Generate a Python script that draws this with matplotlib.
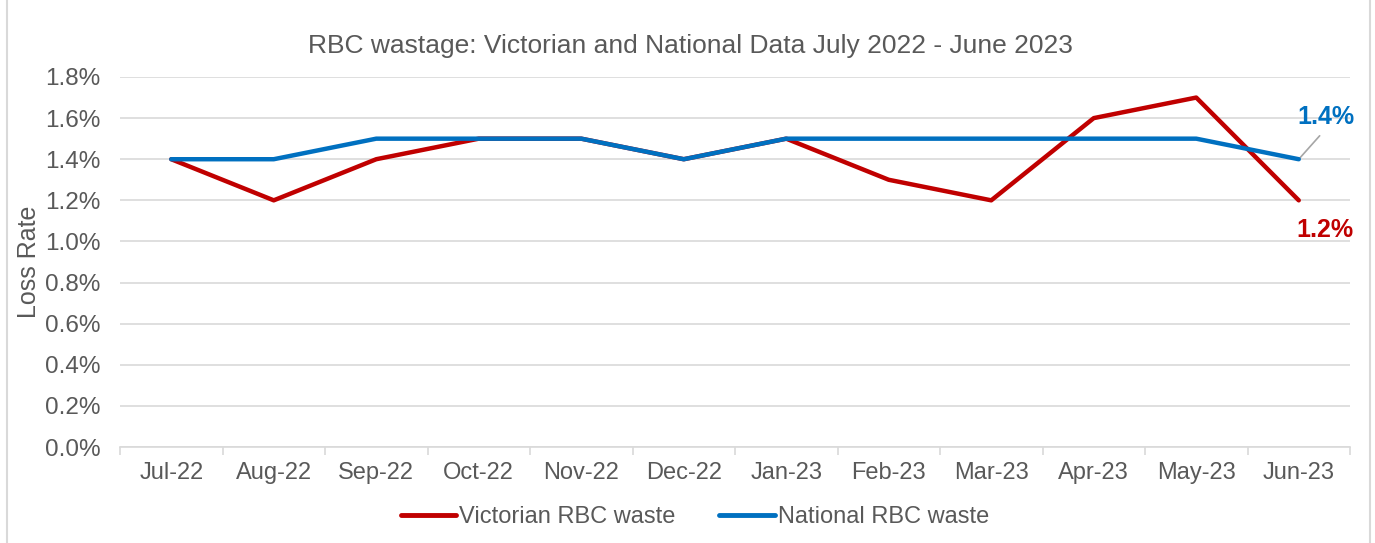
import matplotlib
matplotlib.use('Agg')
import matplotlib.pyplot as plt
from matplotlib.lines import Line2D
import numpy as np

plt.rcParams['font.family'] = ['Liberation Sans', 'DejaVu Sans']

# Data
months = ['Jul-22', 'Aug-22', 'Sep-22', 'Oct-22', 'Nov-22', 'Dec-22',
          'Jan-23', 'Feb-23', 'Mar-23', 'Apr-23', 'May-23', 'Jun-23']
victorian = [1.4, 1.2, 1.4, 1.5, 1.5, 1.4, 1.5, 1.3, 1.2, 1.6, 1.7, 1.2]
national = [1.4, 1.4, 1.5, 1.5, 1.5, 1.4, 1.5, 1.5, 1.5, 1.5, 1.5, 1.4]
yticks = [0.0, 0.2, 0.4, 0.6, 0.8, 1.0, 1.2, 1.4, 1.6, 1.8]

red = '#C00000'
blue = '#0070C0'
grey = '#595959'
gridc = '#D9D9D9'

fig = plt.figure(figsize=(13.75, 5.43), dpi=100)
ax = fig.add_axes([120/1375, 1 - 447/543, 1230/1375, (447 - 77)/543])

x = np.arange(len(months))
ax.plot(x, victorian, color=red, lw=3.2, solid_capstyle='round', zorder=3)
ax.plot(x, national, color=blue, lw=3.2, solid_capstyle='round', zorder=4)

ax.set_xlim(-0.5, len(months) - 0.5)
ax.set_ylim(0, 1.8)
ax.set_yticks(yticks)
ax.set_yticklabels([f'{v:.1f}%' for v in yticks])
ax.set_xticks(x)
ax.set_xticklabels(months)
ax.set_xticks(np.arange(len(months) + 1) - 0.5, minor=True)

ax.grid(axis='y', color=gridc, lw=1.2)
ax.set_axisbelow(True)
for s in ['top', 'right', 'left']:
    ax.spines[s].set_visible(False)
ax.spines['bottom'].set_color(gridc)
ax.spines['bottom'].set_linewidth(1.2)
ax.tick_params(axis='x', which='major', length=0, pad=11, labelsize=17, labelcolor=grey)
ax.tick_params(axis='x', which='minor', length=6, color=gridc, width=1.2)
ax.tick_params(axis='y', length=0, pad=14, labelsize=17.5, labelcolor=grey)

ax.set_ylabel('Loss Rate', fontsize=18, color=grey, labelpad=3)

fig.text(690/1375, 1 - 46/543, 'RBC wastage: Victorian and National Data July 2022 - June 2023',
         ha='center', va='center', fontsize=19, color=grey)

# End-point labels
last = len(months) - 1
ax.annotate(f'{national[last]:.1f}%', xy=(last, national[last]),
            xytext=(19.5, 30.5), textcoords='offset points', ha='center', va='center',
            fontsize=18, fontweight='bold', color=blue,
            arrowprops=dict(arrowstyle='-', color='#A6A6A6', lw=1.2,
                            relpos=(0.5, 0.0), shrinkA=4, shrinkB=0))
ax.annotate(f'{victorian[last]:.1f}%', xy=(last, victorian[last]),
            xytext=(19, -21.5), textcoords='offset points', ha='center', va='center',
            fontsize=18, fontweight='bold', color=red)

handles = [Line2D([0], [0], color=red, lw=3.5, solid_capstyle='round'),
           Line2D([0], [0], color=blue, lw=3.5, solid_capstyle='round')]
fig.legend(handles, ['Victorian RBC waste', 'National RBC waste'],
           loc='center', bbox_to_anchor=(695/1375, 1 - 517/543), ncol=2,
           frameon=False, fontsize=17, labelcolor=grey, handlelength=2.35,
           handletextpad=0.13, columnspacing=1.85)

# Chart-area border
fig.add_artist(plt.Rectangle((7/1375, -0.02), 1363/1375, 1.1, transform=fig.transFigure,
                             fill=False, edgecolor=gridc, lw=1.5))

fig.savefig('out.png', dpi=100)
